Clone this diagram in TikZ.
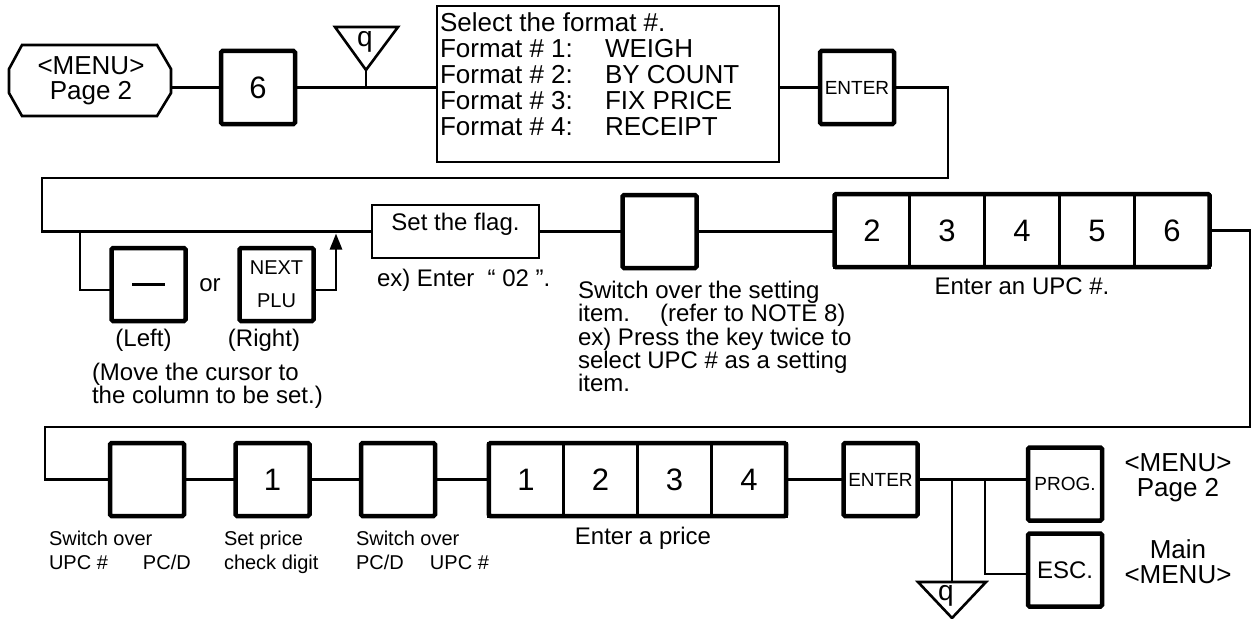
\documentclass[tikz,border=0pt]{standalone}
\usepackage{fontspec}
\setmainfont{Liberation Sans}
\usetikzlibrary{arrows.meta}
\newcommand\fsz[2]{\fontsize{#1}{#2}\selectfont}
\newcommand\fmtline[2]{\makebox[165pt][l]{Format \# #1:}#2}
\begin{document}
\begin{tikzpicture}[x=1pt,y=-1pt,
  every node/.style={inner sep=0pt,outer sep=0pt},
  conn/.style={line width=2.6pt},
  frame/.style={draw,line width=2.2pt},
  keybox/.style={draw,line width=4.5pt,rounded corners=1.5pt,minimum width=74pt,minimum height=73pt,font=\fsz{31}{31}},
  cell/.style={draw,line width=3pt,minimum width=75pt,minimum height=73pt,font=\fsz{31}{31}},
  group/.style={line width=4.5pt,rounded corners=1.5pt},
  lbl/.style={font=\fsz{24}{24}},
  big/.style={font=\fsz{26}{25},align=center},
  small/.style={font=\fsz{20}{24},align=left,anchor=north west}]
\useasboundingbox (0,0) rectangle (1257,618);

% ---------- row 1
\draw[conn] (22,45) -- (157,45) -- (171,69) -- (171,93) -- (157,116) -- (22,116) -- (9,93) -- (9,69) -- cycle;
\node[big] (menu) at (91,80.5) {<MENU>\\Page 2};
\coordinate (menuR) at (171,87.5);
\node[keybox] (k6) at (258,87.5) {6};
\draw[conn] (menuR) -- (k6);

\draw[conn] (335,27) -- (398,27) -- (366,70) -- cycle;
\node[font=\fsz{28}{28}] (q1) at (365,42) {q};
\coordinate (q1tip) at (366,70);
\draw[conn] (q1tip) -- (q1tip |- k6);

\node[frame,minimum width=342pt,minimum height=156pt,anchor=north west] (fmt) at (437,6) {};
\node[anchor=north west,align=left,font=\fsz{26}{26}] (fmttxt) at (440,13)
  {Select the format \#.\\\fmtline{1}{WEIGH}\\\fmtline{2}{BY COUNT}\\\fmtline{3}{FIX PRICE}\\\fmtline{4}{RECEIPT}};
\draw[conn] (k6) -- (k6 -| fmt.west);

\node[keybox,font=\fsz{19}{19}] (e1) at (857,87.5) {ENTER};
\draw[conn] (fmt.east |- e1) -- (e1);

% ---------- row 2
\node[frame,minimum width=167pt,minimum height=53pt,text height=18pt,text depth=21pt,font=\fsz{24}{24}] (flag) at (455.5,231.5) {Set the flag.};
\coordinate (r1) at (948,87.5);
\coordinate (r2) at (948,178);
\coordinate (l1) at (42,178);
\coordinate (l2) at (42,231.5);
\draw[conn] (e1) -- (r1) -- (r2) -- (l1) -- (l2) -- (flag.west);

\node[keybox] (lk) at (148.5,284.5) {\rule{33pt}{3pt}};
\node[lbl] (or) at (210,285) {or};
\node[keybox,font=\fsz{20}{33},align=center] (np) at (276.5,284.5) {NEXT\\PLU};
\coordinate (b1) at (80,231.5);
\coordinate (b2) at (80,290);
\draw[conn] (b1) -- (b2) -- (b2 -| lk.west);
\coordinate (a1) at (336,290);
\coordinate (a2) at (336,233.5);
\draw[conn,-{Triangle[width=12pt,length=16pt]}] (np.east |- b2) -- (a1) -- (a2);

\node[lbl] (leftl) at (143.5,340) {(Left)};
\node[lbl] (rightl) at (264,340) {(Right)};
\node[anchor=north west,align=left,font=\fsz{24}{23}] (movel) at (92,363) {(Move the cursor to\\the column to be set.)};
\node[lbl,anchor=west] (exl) at (377,280) {ex) Enter\ \ “ 02 ”.};

\node[keybox] (sw) at (659.5,231.5) {};
\draw[conn] (flag) -- (sw);
\node[anchor=north west,align=left,font=\fsz{24}{21.8}] (swl) at (578,281)
  {Switch over the setting\\item.\hspace*{30pt}(refer to NOTE 8)\\ex) Press the key twice to\\select UPC \# as a setting\\item.};

\node[cell] (d2) at (872,230.5) {2};
\node[cell] (d3) at (947,230.5) {3};
\node[cell] (d4) at (1022,230.5) {4};
\node[cell] (d5) at (1097,230.5) {5};
\node[cell] (d6) at (1172,230.5) {6};
\draw[group] (d2.north west) rectangle (d6.south east);
\draw[conn] (sw) -- (sw -| d2.west);
\node[lbl] (upcl) at (1022,286) {Enter an UPC \#.};

% ---------- row 3
\coordinate (r3) at (1250,230.5);
\coordinate (r4) at (1250,427);
\coordinate (l3) at (45,427);
\coordinate (l4) at (45,479.5);
\node[keybox] (ka) at (147,479.5) {};
\draw[conn] (d6.east) -- (r3) -- (r4) -- (l3) -- (l4) -- (ka.west);
\node[keybox] (k1) at (272.5,479.5) {1};
\node[keybox] (kb) at (398,479.5) {};
\draw[conn] (ka) -- (k1);
\draw[conn] (k1) -- (kb);

\node[cell,minimum width=74.25pt] (p1) at (526.1,479.5) {1};
\node[cell,minimum width=74.25pt] (p2) at (600.4,479.5) {2};
\node[cell,minimum width=74.25pt] (p3) at (674.6,479.5) {3};
\node[cell,minimum width=74.25pt] (p4) at (748.9,479.5) {4};
\draw[group] (p1.north west) rectangle (p4.south east);
\draw[conn] (kb) -- (p1);
\node[lbl] (pricel) at (643,538) {Enter a price};

\node[keybox,font=\fsz{19}{19}] (e2) at (880.5,479.5) {ENTER};
\draw[conn] (p4) -- (e2);
\node[keybox,font=\fsz{19}{19}] (prog) at (1065,484) {PROG.};
\node[keybox,font=\fsz{24}{24}] (esc) at (1065,570) {ESC.};
\draw[conn] (e2) -- (e2 -| prog.west);

\coordinate (j1) at (952,479.5);
\coordinate (q2top) at (952,582);
\draw[conn] (j1) -- (q2top);
\coordinate (j2) at (985,479.5);
\coordinate (j3) at (985,574);
\draw[conn] (j2) -- (j3) -- (j3 -| esc.west);
\draw[conn] (918,582) -- (986,582) -- (952,618) -- cycle;
\node[font=\fsz{28}{28}] (q2) at (946,596) {q};

\node[big] (menu2) at (1178,477.5) {<MENU>\\Page 2};
\node[big] (mainl) at (1178,561.5) {Main\\<MENU>};

\node[small] (swa) at (49,531) {Switch over\\\makebox[94pt][l]{UPC \#}PC/D};
\node[small] (setp) at (224,531) {Set price\\check digit};
\node[small] (swb) at (356,531) {Switch over\\\makebox[74pt][l]{PC/D}UPC \#};
\end{tikzpicture}
\end{document}
